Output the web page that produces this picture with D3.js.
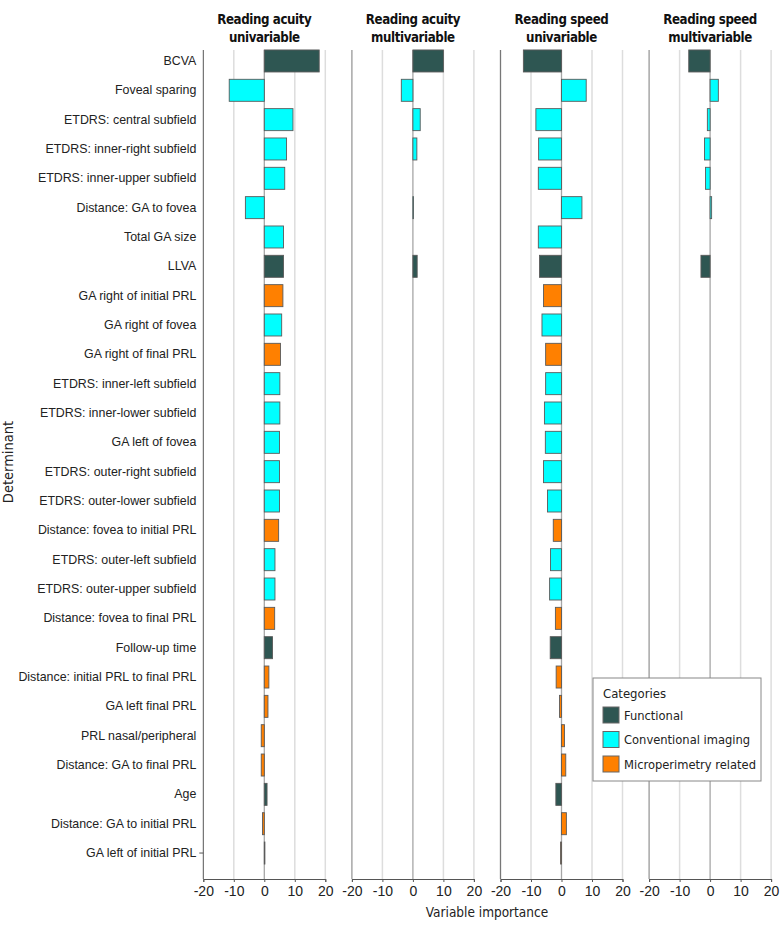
<!DOCTYPE html>
<html>
<head>
<meta charset="utf-8">
<script src="https://cdn.jsdelivr.net/npm/d3@7"></script>
<style>
  html, body { margin: 0; padding: 0; background: #fff; }
  svg { display: block; font-family: "DejaVu Sans", sans-serif; font-stretch: condensed; }
</style>
</head>
<body>
<svg id="chart" width="780" height="933"></svg>
<script>
const determinants = [
  "BCVA", "Foveal sparing", "ETDRS: central subfield", "ETDRS: inner-right subfield",
  "ETDRS: inner-upper subfield", "Distance: GA to fovea", "Total GA size", "LLVA",
  "GA right of initial PRL", "GA right of fovea", "GA right of final PRL",
  "ETDRS: inner-left subfield", "ETDRS: inner-lower subfield", "GA left of fovea",
  "ETDRS: outer-right subfield", "ETDRS: outer-lower subfield", "Distance: fovea to initial PRL",
  "ETDRS: outer-left subfield", "ETDRS: outer-upper subfield", "Distance: fovea to final PRL",
  "Follow-up time", "Distance: initial PRL to final PRL", "GA left final PRL",
  "PRL nasal/peripheral", "Distance: GA to final PRL", "Age", "Distance: GA to initial PRL",
  "GA left of initial PRL"
];
const categoryOf = [
  "Functional", "Conventional imaging", "Conventional imaging", "Conventional imaging",
  "Conventional imaging", "Conventional imaging", "Conventional imaging", "Functional",
  "Microperimetry related", "Conventional imaging", "Microperimetry related",
  "Conventional imaging", "Conventional imaging", "Conventional imaging",
  "Conventional imaging", "Conventional imaging", "Microperimetry related",
  "Conventional imaging", "Conventional imaging", "Microperimetry related",
  "Functional", "Microperimetry related", "Microperimetry related",
  "Microperimetry related", "Microperimetry related", "Functional", "Microperimetry related",
  "Microperimetry related"
];
const acuityUni = [18.0, -11.5, 9.4, 7.3, 6.7, -6.2, 6.3, 6.3, 6.1, 5.7, 5.3, 5.1, 5.1, 5.0,
  5.0, 5.0, 4.7, 3.5, 3.5, 3.4, 2.7, 1.5, 1.2, -1.0, -1.0, 0.9, -0.6, 0.1];
const acuityMulti = [10.0, -3.8, 2.4, 1.3, null, 0.2, null, 1.4, null, null, null, null, null, null,
  null, null, null, null, null, null, null, null, null, null, null, null, null, null];
const speedUni = [-12.5, 8.1, -8.4, -7.5, -7.6, 6.7, -7.6, -7.2, -5.9, -6.4, -5.2, -5.2, -5.6, -5.3,
  -5.9, -4.6, -2.7, -3.6, -3.9, -2.0, -3.7, -1.75, -0.65, 1.0, 1.4, -1.85, 1.6, -0.3];
const speedMulti = [-7.0, 2.7, -0.9, -1.85, -1.5, 0.5, null, -3.0, null, null, null, null, null, null,
  null, null, null, null, null, null, null, null, null, null, null, null, null, null];
const panelTitles = [
  ["Reading acuity", "univariable"], ["Reading acuity", "multivariable"],
  ["Reading speed", "univariable"], ["Reading speed", "multivariable"]
];
const xTicks = [-20, -10, 0, 10, 20];
const categories = ["Functional", "Conventional imaging", "Microperimetry related"];
const categoryColors = ["#2E5652", "#00FFFF", "#FF8000"];

const panelValues = [acuityUni, acuityMulti, speedUni, speedMulti];

const svg = d3.select("#chart");
const color = d3.scaleOrdinal().domain(categories).range(categoryColors);

const plotTop = 50, plotBottom = 879;
const y = d3.scaleBand().domain(determinants).range([46.3, 867.7]).paddingInner(0.25).paddingOuter(0.125);

const panelLeft0 = 203.3, panelStep = 148.6, panelWidth = 122;

panelValues.forEach((vals, p) => {
  const x0 = panelLeft0 + p * panelStep;
  const x = d3.scaleLinear().domain([-20, 20]).range([x0, x0 + panelWidth]);
  const g = svg.append("g");

  g.selectAll("line.grid").data([-10, 10, 20]).enter().append("line")
    .attr("x1", d => x(d)).attr("x2", d => x(d))
    .attr("y1", plotTop).attr("y2", plotBottom)
    .attr("stroke", "#dddddd").attr("stroke-width", 1.5);
  g.append("line").attr("x1", x(0)).attr("x2", x(0)).attr("y1", plotTop).attr("y2", plotBottom)
    .attr("stroke", "#a6a6a6").attr("stroke-width", 1.3);
  g.append("line").attr("x1", x(-20)).attr("x2", x(-20)).attr("y1", plotTop).attr("y2", plotBottom)
    .attr("stroke", p === 0 ? "#555" : (p === 2 ? "#777" : "#999")).attr("stroke-width", p === 0 ? 1 : 1.3);

  const rows = determinants.map((d, i) => ({ name: d, v: vals[i], cat: categoryOf[i] }))
    .filter(r => r.v !== null);
  g.selectAll("rect.bar").data(rows).enter().append("rect")
    .attr("x", r => Math.min(x(0), x(r.v)))
    .attr("width", r => Math.max(0.6, Math.abs(x(r.v) - x(0))))
    .attr("y", r => y(r.name))
    .attr("height", y.bandwidth())
    .attr("fill", r => color(r.cat))
    .attr("stroke", "#5a5a5a").attr("stroke-width", 0.9);

  const ax = g.append("g").attr("transform", `translate(0,${plotBottom})`)
    .call(d3.axisBottom(x).tickValues(xTicks).tickSize(3).tickPadding(4).tickFormat(d3.format("d")));
  ax.select(".domain").attr("stroke", "#555");
  ax.selectAll(".tick line").attr("stroke", "#555");
  ax.selectAll("text").attr("font-size", 14).attr("fill", "#222")
    .text(d => d < 0 ? "-" + Math.abs(d) : d);

  const t = svg.append("text").attr("text-anchor", "middle").attr("font-weight", "bold")
    .attr("font-size", 13.2).attr("letter-spacing", -0.4).attr("fill", "#111");
  t.append("tspan").attr("x", x(0)).attr("y", 24).text(panelTitles[p][0]);
  t.append("tspan").attr("x", x(0)).attr("y", 42).text(panelTitles[p][1]);
});

const yAx = svg.append("g").attr("transform", `translate(${panelLeft0},0)`)
  .call(d3.axisLeft(y).tickSize(4).tickPadding(3));
yAx.select(".domain").remove();
yAx.selectAll(".tick line").attr("stroke", "#555")
  .attr("opacity", d => d === determinants[determinants.length - 1] ? 1 : 0);
yAx.selectAll("text").attr("font-size", 12.4).attr("fill", "#222");

svg.append("text").attr("x", 487).attr("y", 917).attr("text-anchor", "middle")
  .attr("font-size", 13.5).attr("fill", "#222").text("Variable importance");
svg.append("text").attr("transform", "translate(13,462) rotate(-90)").attr("text-anchor", "middle")
  .attr("font-size", 14.5).attr("fill", "#222").text("Determinant");

const lg = svg.append("g").attr("transform", "translate(593,678)");
lg.append("rect").attr("width", 168).attr("height", 103).attr("fill", "#fff")
  .attr("stroke", "#888").attr("stroke-width", 1);
lg.append("text").attr("x", 10).attr("y", 20).attr("font-size", 13).attr("fill", "#222").text("Categories");
lg.selectAll("g.item").data(categories).enter().append("g")
  .attr("transform", (d, i) => `translate(10,${29 + i * 24.5})`)
  .each(function (d) {
    const it = d3.select(this);
    it.append("rect").attr("width", 16).attr("height", 16).attr("fill", color(d))
      .attr("stroke", "#666").attr("stroke-width", 1);
    it.append("text").attr("x", 21).attr("y", 12.5).attr("font-size", 12.8).attr("fill", "#222").text(d);
  });
</script>
</body>
</html>
